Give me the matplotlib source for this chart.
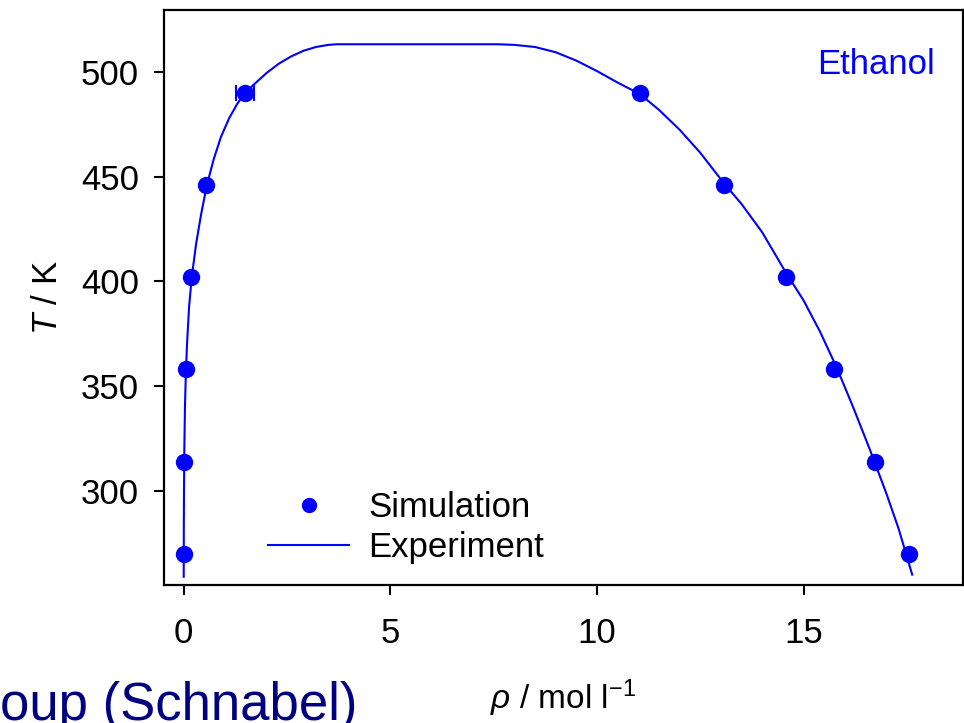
import matplotlib
matplotlib.use('Agg')
import matplotlib.pyplot as plt
from matplotlib.lines import Line2D

plt.rcParams['font.family'] = ['Liberation Sans', 'DejaVu Sans']
plt.rcParams['mathtext.fontset'] = 'custom'
plt.rcParams['mathtext.rm'] = 'Liberation Sans'
plt.rcParams['mathtext.it'] = 'Liberation Sans:italic'

# simulation points (rho in mol/l, T in K)
sim_rho = [0.0, 0.0, 0.05, 0.17, 0.55, 1.48, 11.04, 13.07, 14.58, 15.74, 16.73, 17.55]
sim_T = [270, 314, 358, 402, 446, 490, 490, 446, 402, 358, 314, 270]
sim_err = [0, 0, 0, 0, 0, 0.22, 0, 0, 0, 0, 0, 0]

# experimental coexistence curve
exp_rho = [0.0, 0.001, 0.003, 0.007, 0.015, 0.03, 0.05, 0.08, 0.13, 0.2, 0.3,
           0.42, 0.56, 0.72, 0.9, 1.1, 1.3, 1.5, 1.75, 2.0, 2.3, 2.6, 2.9, 3.2,
           3.5, 3.7, 7.6, 8.0, 8.5, 9.0, 9.5, 10.0, 10.5, 11.04, 11.5, 12.0,
           12.5, 13.07, 13.5, 14.0, 14.58, 15.0, 15.4, 15.8, 16.2, 16.6, 17.0,
           17.3, 17.63]
exp_T = [259, 270, 285, 300, 320, 340, 355, 370, 388, 403, 418,
         432, 446, 458, 469, 478, 485, 490.5, 495, 499.5, 504, 507.5, 510.2, 512,
         513, 513.3, 513.3, 513, 512, 509.5, 505.5, 500.5, 495, 489.5, 482, 472.5,
         461.5, 447, 437, 423.5, 404, 391, 376, 359, 340, 320, 299,
         282, 260]

blue = '#0000ff'

fig = plt.figure(figsize=(9.64, 7.23), dpi=100)
ax = fig.add_axes([0.170, 0.191, 0.829, 0.795])

ax.plot(exp_rho, exp_T, color=blue, lw=1.5, zorder=2)
ax.errorbar(sim_rho, sim_T, xerr=sim_err, fmt='o', color=blue, ms=11.5,
            elinewidth=1.5, capsize=6, capthick=1.5, zorder=3)

ax.set_xlim(-0.48, 18.86)
ax.set_ylim(255.1, 529.6)
ax.set_xticks([0, 5, 10, 15])
ax.set_yticks([300, 350, 400, 450, 500])
ax.tick_params(direction='out', length=7, width=1.5, labelsize=25)
ax.tick_params(axis='x', pad=16)
ax.tick_params(axis='y', pad=11)
for s in ax.spines.values():
    s.set_linewidth(1.6)

ax.set_xlabel(r'$\rho$ / mol l$^{-1}$', fontsize=24, labelpad=20)
ax.set_ylabel(r'$\it{T}$ / K', fontsize=25, labelpad=12)

ax.text(0.965, 0.905, 'Ethanol', transform=ax.transAxes, ha='right', va='center',
        color=blue, fontsize=25)

sim_handle = Line2D([], [], ls='none', marker='o', color=blue, ms=10)
exp_handle = Line2D([], [], color=blue, lw=1.5)
ax.legend([sim_handle, exp_handle], ['Simulation', 'Experiment'],
          loc='center left', bbox_to_anchor=(0.130, 0.10), frameon=False,
          fontsize=25, handlelength=2.35, handletextpad=0.55, labelspacing=0.2,
          borderpad=0, borderaxespad=0)

fig.text(0.0, 0.004, 'oup (Schnabel)', color='#000080', fontsize=38,
         ha='left', va='baseline')

fig.savefig('out.png', dpi=100)
